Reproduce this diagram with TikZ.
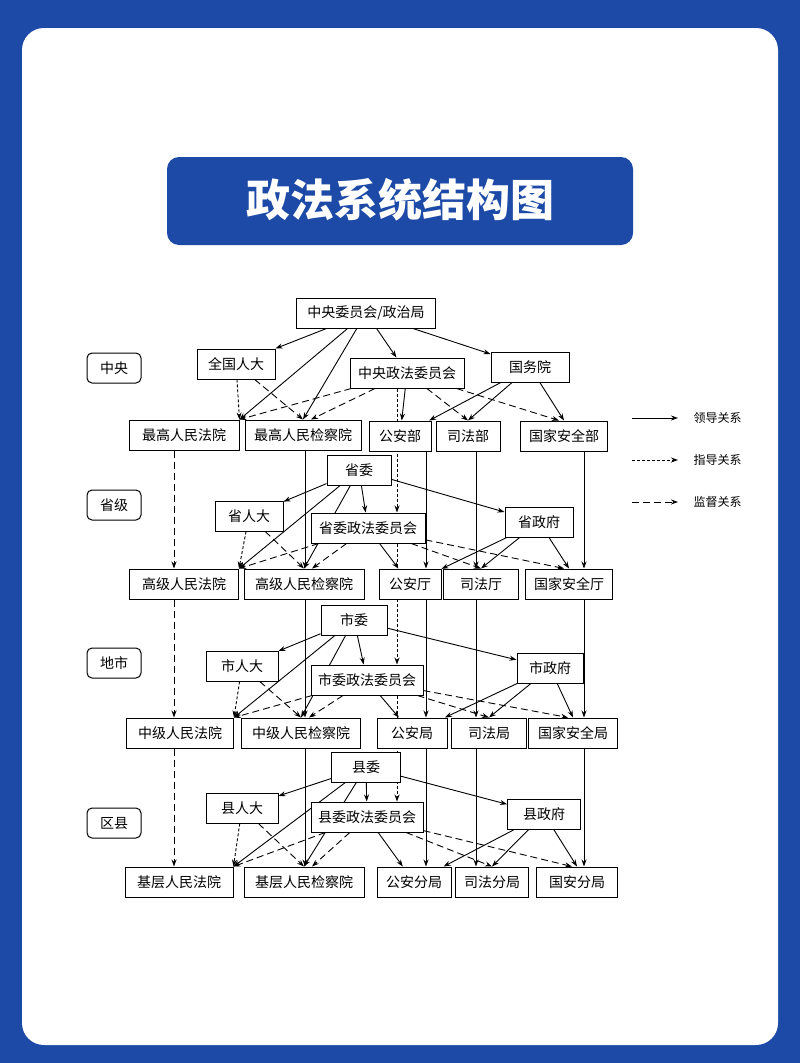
\documentclass[tikz,border=0pt]{standalone}
\usepackage{fontspec}
\usetikzlibrary{arrows.meta}
\newfontfamily\cjk{Noto Sans CJK SC}
\definecolor{frameblue}{HTML}{1C4AA6}
\pgfdeclarelayer{bg}
\pgfdeclarelayer{edges}
\pgfsetlayers{bg,edges,main}

\begin{document}
\begin{tikzpicture}[
  x=1pt,
  y=-1pt,
  >={Stealth[length=7pt,width=5pt]},
  box/.style={draw, line width=1pt, fill=white, minimum height=30pt,
    inner sep=0pt, font=\cjk\fontsize{14}{16}\selectfont},
  tag/.style={box, rounded corners=5pt, minimum width=54pt},
  lead/.style={->, line width=0.9pt},
  guide/.style={->, line width=0.9pt, dash pattern=on 3pt off 2pt},
  watch/.style={->, line width=0.9pt, dash pattern=on 7pt off 4pt},
]
  \useasboundingbox (0,0) rectangle (800,1063);
  \begin{pgfonlayer}{bg}
    \fill[frameblue] (0,0) rectangle (800,1063);
    \fill[white, rounded corners=22pt] (22,28) rectangle (778,1045);
    \fill[frameblue, rounded corners=12pt] (167,157) rectangle (633,245);
  \end{pgfonlayer}
  \node[text=white, font=\cjk\bfseries\fontsize{44}{50}\selectfont]
    (title) at (400,200) {政法系统结构图};

  % level tags
  \foreach \n/\y/\t in {t1/368/中央, t2/505/省级, t3/663/地市, t4/823/区县}
    \node[tag] (\n) at (114,\y) {\t};

  % boxes: name/x/y/width/text
  \foreach \n/\x/\y/\w/\t in {
      w1/366/313/139/{中央委员会/政治局},
      r1/236/364/78/全国人大,
      z1/407/373/114/中央政法委员会,
      g1/530/367/78/国务院,
      f1/184/435/110/最高人民法院,
      j1/303/435/116/最高人民检察院,
      a1/400/436/62/公安部,
      s1/468/436/64/司法部,
      n1/564/436/87/国家安全部,
      w2/359/470/64/省委,
      r2/249/516/68/省人大,
      z2/368/528/114/省委政法委员会,
      g2/539/522/68/省政府,
      f2/184/584/109/高级人民法院,
      j2/304/584/120/高级人民检察院,
      a2/410/584/62/公安厅,
      s2/481/584/75/司法厅,
      n2/569/584/87/国家安全厅,
      w3/354/620/66/市委,
      r3/242/666/72/市人大,
      z3/367/680/112/市委政法委员会,
      g3/550/668/66/市政府,
      f3/180/733/107/中级人民法院,
      j3/301/733/119/中级人民检察院,
      a3/412/733/70/公安局,
      s3/489/733/75/司法局,
      n3/573/733/89/国家安全局,
      w4/366/767/69/县委,
      r4/242/808/72/县人大,
      z4/367/817/112/县委政法委员会,
      g4/544/814/73/县政府,
      f4/179/882/108/基层人民法院,
      j4/304/882/120/基层人民检察院,
      a4/414/882/74/公安分局,
      s4/492/882/73/司法分局,
      n4/577/882/81/国安分局%
    }
    \node[box, minimum width=\w pt] (\n) at (\x,\y) {\t};

  \begin{pgfonlayer}{edges}
    % edges inside each level
    \foreach \L in {1,...,4} {
      \draw[lead] (w\L) -- (r\L);
      \draw[lead] (w\L) -- (z\L);
      \draw[lead] (w\L) -- (g\L);
      \draw[lead] (w\L) -- (f\L.north east);
      \draw[lead] (w\L) -- (j\L.north);
      \draw[guide] (r\L) -- (f\L.north east);
      \draw[watch] (r\L) -- (j\L.north);
      \draw[watch] (z\L) -- (f\L.north east);
      \draw[watch] (z\L) -- ([xshift=8pt]j\L.north);
      \draw[lead] (z\L) -- (a\L);
      \draw[watch] (z\L) -- (s\L.north);
      \draw[watch] (z\L) -- ([xshift=-5pt]n\L.north);
      \draw[lead] (g\L) -- (a\L);
      \draw[lead] (g\L) -- (s\L.north);
      \draw[lead] (g\L) -- (n\L.north);
    }
    % edges from one level to the next
    \foreach \L/\M in {1/2, 2/3, 3/4} {
      \draw[watch] (f\L.south -| 174,0) -- (f\M.north -| 174,0);
      \draw[lead] (j\L.south -| 305,0) -- (j\M.north -| 305,0);
      \draw[guide] (z\L.south -| 397,0) -- (z\M.north -| 397,0);
      \draw[lead] (a\L.south -| 426,0) -- (a\M.north -| 426,0);
      \draw[lead] (s\L.south -| 476,0) -- (s\M.north -| 476,0);
      \draw[lead] (n\L.south -| 584,0) -- (n\M.north -| 584,0);
    }
  \end{pgfonlayer}

  % legend
  \foreach \n/\y/\s/\t in {k1/418/lead/领导关系, k2/460/guide/指导关系, k3/502/watch/监督关系} {
    \coordinate (\n) at (632,\y);
    \node[anchor=west, font=\cjk\fontsize{12}{14}\selectfont] (\n t) at (690,\y) {\t};
    \draw[\s] (\n) -- ([xshift=-12pt]\n t.west);
  }
\end{tikzpicture}
\end{document}
